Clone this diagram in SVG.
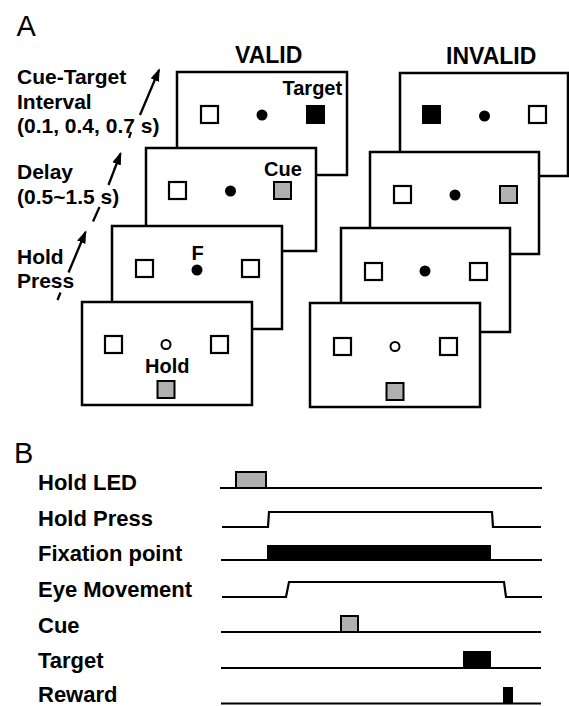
<svg xmlns="http://www.w3.org/2000/svg" width="569" height="706" viewBox="0 0 569 706">
<defs>
<style>
.lbl{font-family:"Liberation Sans",Arial,sans-serif;font-weight:bold;fill:#000}
.big{font-family:"Liberation Sans",Arial,sans-serif;font-size:29px;fill:#000}
.frame{fill:#fff;stroke:#000;stroke-width:2.5}
.sq{fill:#fff;stroke:#000;stroke-width:2.2}
.sqk{fill:#000;stroke:#000;stroke-width:2}
.sqg{fill:#b0b0b0;stroke:#000;stroke-width:2}
.dot{fill:#000}
.ring{fill:#fff;stroke:#000;stroke-width:2}
.conn{fill:none;stroke:#000;stroke-width:2.3}
.tl{fill:none;stroke:#000;stroke-width:2.2}
</style>
<marker id="ah" viewBox="0 0 13 9" refX="11" refY="4.5" markerWidth="13" markerHeight="9" markerUnits="userSpaceOnUse" orient="auto">
<path d="M0,0 L13,4.5 L0,9 z" fill="#000"/>
</marker>
</defs>
<rect width="569" height="706" fill="#fff"/>

<text class="big" x="16.5" y="35.5">A</text>
<text class="big" x="14" y="463">B</text>

<g id="labels-A">
<text class="lbl" font-size="21" x="17" y="84">Cue-Target</text>
<text class="lbl" font-size="21" x="17" y="108.5">Interval</text>
<text class="lbl" font-size="21" x="17" y="133">(0.1, 0.4, 0.7 s)</text>
<text class="lbl" font-size="21" x="17" y="179">Delay</text>
<text class="lbl" font-size="21" x="17" y="204">(0.5~1.5 s)</text>
<text class="lbl" font-size="21" x="17" y="264">Hold</text>
<text class="lbl" font-size="21" x="17" y="288">Press</text>
<text class="lbl" font-size="23" x="235" y="63">VALID</text>
<text class="lbl" font-size="23" x="446" y="64">INVALID</text>
</g>

<g id="connectors">
<line class="conn" x1="140" y1="115" x2="159" y2="70" marker-end="url(#ah)"/>
<line class="conn" x1="131" y1="132" x2="129" y2="138"/>
<line class="conn" x1="108.5" y1="185" x2="120.5" y2="153.5" marker-end="url(#ah)"/>
<line class="conn" x1="99.5" y1="207" x2="93" y2="221.5"/>
<line class="conn" x1="68.5" y1="272.5" x2="85.5" y2="232" marker-end="url(#ah)"/>
<line class="conn" x1="60.5" y1="292.5" x2="57.5" y2="300"/>
</g>

<!-- VALID stack -->
<g id="valid-target" transform="translate(177,72)">
<rect class="frame" x="0" y="0" width="170" height="103"/>
<rect class="sq" x="24" y="34" width="17" height="17"/>
<circle class="dot" cx="85" cy="43" r="5.5"/>
<rect class="sqk" x="130" y="34" width="17" height="17"/>
<text class="lbl" font-size="20" x="105.5" y="23">Target</text>
</g>
<g id="valid-cue" transform="translate(146,148)">
<rect class="frame" x="0" y="0" width="170" height="103"/>
<rect class="sq" x="23" y="34" width="17" height="17"/>
<circle class="dot" cx="84.5" cy="43" r="5.5"/>
<rect class="sqg" x="128" y="34" width="17" height="17"/>
<text class="lbl" font-size="20" x="118" y="28">Cue</text>
</g>
<g id="valid-fix" transform="translate(112,226)">
<rect class="frame" x="0" y="0" width="170" height="103"/>
<rect class="sq" x="24" y="34" width="17" height="17"/>
<circle class="dot" cx="85" cy="44" r="5.5"/>
<rect class="sq" x="130" y="34" width="17" height="17"/>
<text class="lbl" font-size="20" x="79.5" y="34">F</text>
</g>
<g id="valid-hold" transform="translate(82,302)">
<rect class="frame" x="0" y="0" width="170" height="103"/>
<rect class="sq" x="23" y="34" width="17" height="17"/>
<circle class="ring" cx="84" cy="42.5" r="4.5"/>
<rect class="sq" x="129" y="34" width="17" height="17"/>
<text class="lbl" font-size="20" x="63" y="71">Hold</text>
<rect class="sqg" x="75.5" y="79" width="17" height="17"/>
</g>

<!-- INVALID stack -->
<g id="invalid-target" transform="translate(400,73)">
<rect class="frame" x="0" y="0" width="168" height="103"/>
<rect class="sqk" x="23" y="33" width="17" height="17"/>
<circle class="dot" cx="84.5" cy="43" r="5.5"/>
<rect class="sq" x="129" y="33" width="17" height="17"/>
</g>
<g id="invalid-cue" transform="translate(370,152)">
<rect class="frame" x="0" y="0" width="169" height="102"/>
<rect class="sq" x="24" y="34" width="17" height="17"/>
<circle class="dot" cx="85" cy="43" r="5.5"/>
<rect class="sqg" x="130" y="34" width="17" height="17"/>
</g>
<g id="invalid-fix" transform="translate(341,228)">
<rect class="frame" x="0" y="0" width="169" height="104"/>
<rect class="sq" x="24" y="35" width="17" height="17"/>
<circle class="dot" cx="84" cy="43" r="5.5"/>
<rect class="sq" x="129" y="35" width="17" height="17"/>
</g>
<g id="invalid-hold" transform="translate(310,303)">
<rect class="frame" x="0" y="0" width="170" height="104"/>
<rect class="sq" x="24" y="35" width="17" height="17"/>
<circle class="ring" cx="85" cy="43.5" r="4.5"/>
<rect class="sq" x="130" y="35" width="17" height="17"/>
<rect class="sqg" x="76.5" y="80" width="17" height="17"/>
</g>

<!-- Panel B -->
<g id="row-holdled">
<text class="lbl" font-size="22" x="38" y="490">Hold LED</text>
<line class="tl" x1="220" y1="488" x2="542" y2="488"/>
<rect class="sqg" x="236" y="472" width="30" height="16"/>
</g>
<g id="row-holdpress">
<text class="lbl" font-size="22" x="38" y="526">Hold Press</text>
<polyline class="tl" points="222,527 268,527 269,512 492,512 493,527 541,527"/>
</g>
<g id="row-fixation">
<text class="lbl" font-size="22" x="38" y="561">Fixation point</text>
<line class="tl" x1="221" y1="560" x2="542" y2="560"/>
<rect x="267" y="545" width="224" height="16" fill="#000"/>
</g>
<g id="row-eye">
<text class="lbl" font-size="22" x="38" y="597">Eye Movement</text>
<polyline class="tl" points="222,597 286,597 289,582 504,582 506,597 542,597"/>
</g>
<g id="row-cue">
<text class="lbl" font-size="22" x="38" y="633">Cue</text>
<line class="tl" x1="221" y1="632" x2="541" y2="632"/>
<rect class="sqg" x="341" y="616" width="17" height="16"/>
</g>
<g id="row-target">
<text class="lbl" font-size="22" x="38" y="668">Target</text>
<line class="tl" x1="221" y1="668" x2="541" y2="668"/>
<rect x="463" y="651" width="28" height="17" fill="#000"/>
</g>
<g id="row-reward">
<text class="lbl" font-size="22" x="38" y="702">Reward</text>
<line class="tl" x1="221" y1="703.5" x2="541" y2="703.5"/>
<rect x="503" y="687" width="10" height="17" fill="#000"/>
</g>
</svg>
